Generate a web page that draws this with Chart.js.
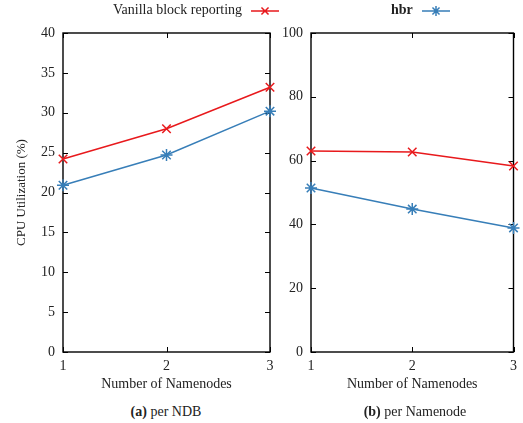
<!DOCTYPE html>
<html>
<head>
<meta charset="utf-8">
<script src="https://cdn.jsdelivr.net/npm/chart.js@4/dist/chart.umd.min.js"></script>
<style>
  body { margin: 0; background: #fff; font-family: "Liberation Serif", serif; color: #222; }
  #wrap { position: relative; width: 523px; height: 423px; overflow: hidden; }
  canvas.chart { position: absolute; top: 0; }
  .leg { position: absolute; top: 2px; font-size: 14px; line-height: 16px; white-space: nowrap; }
  .leg canvas { vertical-align: middle; margin-left: 8px; }
  .cap { position: absolute; top: 404px; font-size: 14px; width: 260px; text-align: center; }
</style>
</head>
<body>
<div id="wrap">
  <canvas id="ndb" class="chart" width="290" height="400" style="left:0"></canvas>
  <canvas id="nn" class="chart" width="253" height="400" style="left:270px"></canvas>
  <div class="leg" style="left:113px">Vanilla block reporting<canvas id="legA" width="30" height="14"></canvas></div>
  <div class="leg" style="left:391px"><b>hbr</b><canvas id="legB" width="30" height="14"></canvas></div>
  <div class="cap" style="left:36px"><b>(a)</b> per NDB</div>
  <div class="cap" style="left:285px"><b>(b)</b> per Namenode</div>
</div>
<script>
const nodes = ["1", "2", "3"];
// CPU utilization per NDB (%)
const ndbVanilla = [24.2, 28.0, 33.2];
const ndbHbr = [20.9, 24.7, 30.2];
// CPU utilization per Namenode (%)
const nnVanilla = [63.0, 62.7, 58.3];
const nnHbr = [51.4, 44.8, 38.9];

const red = "#e8191c";
const blue = "#377eb8";
const font = { family: "Liberation Serif", size: 14 };

// gnuplot style box with ticks pointing inwards
const frame = {
  id: "frame",
  beforeDatasetsDraw(chart) {
    const { ctx, chartArea: a } = chart;
    const x = chart.scales.x, y = chart.scales.y;
    ctx.save();
    ctx.strokeStyle = "#000";
    ctx.lineWidth = 1;
    y.ticks.forEach((t) => {
      const py = Math.round(y.getPixelForValue(t.value)) + 0.5;
      ctx.beginPath();
      ctx.moveTo(a.left, py); ctx.lineTo(a.left + 5, py);
      ctx.moveTo(a.right, py); ctx.lineTo(a.right - 5, py);
      ctx.stroke();
    });
    x.ticks.forEach((t, i) => {
      const px = Math.round(x.getPixelForTick(i)) + 0.5;
      ctx.beginPath();
      ctx.moveTo(px, a.bottom); ctx.lineTo(px, a.bottom - 5);
      ctx.moveTo(px, a.top); ctx.lineTo(px, a.top + 5);
      ctx.stroke();
    });
    ctx.lineWidth = 1.4;
    ctx.strokeRect(a.left, a.top, a.right - a.left, a.bottom - a.top);
    ctx.restore();
  }
};

function series(data, color, style) {
  return {
    data: data,
    borderColor: color,
    backgroundColor: color,
    borderWidth: 1.5,
    pointStyle: style,
    pointRadius: 6,
    pointBorderWidth: 1.5,
    pointBorderColor: color,
    clip: false
  };
}

function makeChart(id, vanilla, hbr, yMax, yStep, yWidth, yTitle, pad) {
  return new Chart(document.getElementById(id), {
    type: "line",
    data: {
      labels: nodes,
      datasets: [series(vanilla, red, "crossRot"), series(hbr, blue, "star")]
    },
    options: {
      responsive: false,
      devicePixelRatio: 1,
      animation: false,
      layout: { padding: pad },
      plugins: { legend: { display: false }, tooltip: { enabled: false } },
      scales: {
        x: {
          offset: false,
          grid: { display: false, drawTicks: false },
          border: { display: false },
          ticks: { color: "#222", font: font, padding: 6, maxRotation: 0 },
          title: { display: true, text: "Number of Namenodes", color: "#222", font: font, padding: { top: 0, bottom: 7 } },
          afterFit: (s) => { s.height = 48; }
        },
        y: {
          min: 0,
          max: yMax,
          grid: { display: false, drawTicks: false },
          border: { display: false },
          ticks: { stepSize: yStep, color: "#222", font: font, padding: 8 },
          title: { display: !!yTitle, text: yTitle, color: "#222", font: { family: "Liberation Serif", size: 13 }, padding: { top: 14, bottom: 0 } },
          afterFit: (s) => { s.width = yWidth; }
        }
      }
    },
    plugins: [frame]
  });
}

makeChart("ndb", ndbVanilla, ndbHbr, 40, 5, 63, "CPU Utilization (%)", { top: 33, right: 20, left: 0, bottom: 0 });
makeChart("nn", nnVanilla, nnHbr, 100, 20, 41, "", { top: 33, right: 4, left: 0, bottom: 0 });

function legendMark(id, color, star) {
  const ctx = document.getElementById(id).getContext("2d");
  ctx.strokeStyle = color;
  ctx.lineWidth = 1.5;
  ctx.beginPath();
  ctx.moveTo(1, 7); ctx.lineTo(29, 7);
  const r = 5, d = r * Math.SQRT1_2;
  ctx.moveTo(15 - d, 7 - d); ctx.lineTo(15 + d, 7 + d);
  ctx.moveTo(15 - d, 7 + d); ctx.lineTo(15 + d, 7 - d);
  if (star) { ctx.moveTo(15, 7 - r); ctx.lineTo(15, 7 + r); }
  ctx.stroke();
}
legendMark("legA", red, false);
legendMark("legB", blue, true);
</script>
</body>
</html>
